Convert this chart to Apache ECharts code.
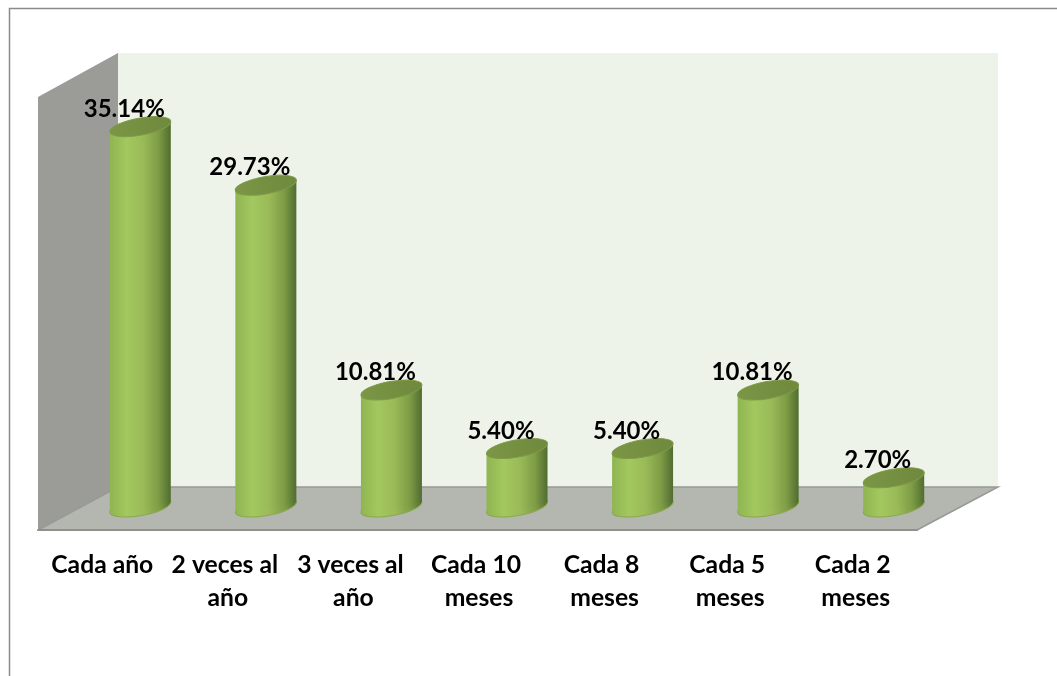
<!DOCTYPE html>
<html><head><meta charset="utf-8">
<style>html,body{margin:0;padding:0;background:#fff}#c{width:1057px;height:676px}</style>
<script src="https://cdn.jsdelivr.net/npm/echarts@6/dist/echarts.min.js"></script>
</head><body><div id="c"></div>
<script>
const categories = ['Cada año','2 veces al año','3 veces al año','Cada 10 meses','Cada 8 meses','Cada 5 meses','Cada 2 meses'];
const percentValues = [35.14,29.73,10.81,5.40,5.40,10.81,2.70];

const depthX = 39.5, depthY = -23;
const theta = 10*Math.PI/180, rotA = 31, rotB = 8.6;
const halfW = 30.5, edgeDy = 5;

const bodyFill = {type:'linear',x:0,y:0,x2:1,y2:0,colorStops:[
  {offset:0,color:'#8fb552'},{offset:0.28,color:'#a3c85f'},{offset:0.55,color:'#9aba58'},
  {offset:0.8,color:'#7d9c45'},{offset:1,color:'#516c30'}]};

function renderCyl(params, api){
  const v = api.value(1);
  const base = api.coord([api.value(0),0]);
  const top = api.coord([api.value(0),v]);
  const cx = base[0]+depthX, by = base[1]+depthY, ty = top[1]+depthY;
  const ell = (y,fill,stroke)=>({type:'ellipse',originX:cx,originY:y,rotation:theta,
    shape:{cx:cx,cy:y,rx:rotA,ry:rotB},style:{fill:fill,stroke:stroke,lineWidth:1}});
  return {type:'group',children:[
    ell(by,bodyFill,'#8aa84e'),
    {type:'polygon',shape:{points:[[cx-halfW,ty+edgeDy],[cx+halfW,ty-edgeDy],[cx+halfW,by-edgeDy],[cx-halfW,by+edgeDy]]},style:{fill:bodyFill}},
    ell(ty,{type:'linear',x:0,y:0,x2:1,y2:0,colorStops:[{offset:0,color:'#7b9645'},{offset:1,color:'#6f893d'}]},'#7f9b48'),
    {type:'text',x:cx-16,y:ty-17.5,style:{text:v.toFixed(2)+'%',x:0,y:0,align:'center',verticalAlign:'middle',
      font:'bold 24px Lato',fill:'#000'}}
  ]};
}

const chart = echarts.init(document.getElementById('c'),null,{renderer:'canvas'});
chart.setOption({
  animation:false,
  backgroundColor:'#fff',
  grid:{left:38,top:97,width:879,height:433},
  xAxis:{type:'category',data:categories,
    axisLine:{show:true,lineStyle:{color:'#8f908c',width:2}},axisTick:{show:false},
    axisLabel:{interval:0,margin:19,width:120,overflow:'break',lineHeight:33,padding:[0,0,0,3],
      fontFamily:'Lato',fontWeight:'bold',fontSize:24.7,color:'#000'}},
  yAxis:{type:'value',min:0,max:40,show:false},
  graphic:[
    {type:'polyline',z:-1,shape:{points:[[9.5,676],[9.5,8.5],[1057,8.5]]},style:{stroke:'#8a8a8a',lineWidth:1.5,fill:null}},
    {type:'rect',z:-1,shape:{x:118,y:53,width:880,height:434},style:{fill:'#eef3ea'}},
    {type:'polygon',z:-1,shape:{points:[[38,97],[118,53],[118,487],[38,530]]},style:{fill:'#9b9c98'}},
    {type:'polygon',z:-1,shape:{points:[[38,530],[118,487],[998,487],[917,530]]},style:{fill:'#b4b6b0'}},
    {type:'polyline',z:-1,shape:{points:[[38,530],[118,487],[998,487],[917,530]]},style:{stroke:'#989995',lineWidth:1.5,fill:null}}
  ],
  series:[{type:'custom',coordinateSystem:'cartesian2d',clip:false,
    encode:{x:0,y:1},renderItem:renderCyl,
    data:percentValues.map((v,i)=>[i,v])}]
});
</script></body></html>
